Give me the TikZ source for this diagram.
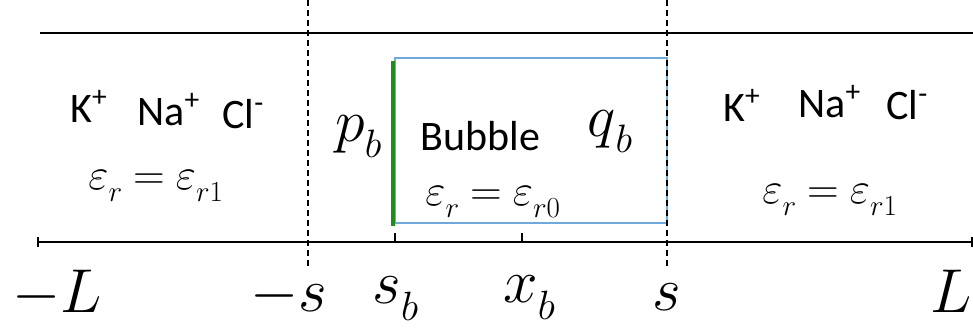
\RequirePackage{fix-cm}
\documentclass[tikz,border=0pt]{standalone}
\usepackage{fontspec}
\usepackage{graphicx}
\usetikzlibrary{calc}
\setmainfont{Carlito}
\definecolor{bubbleedge}{HTML}{6FA8DC}
\definecolor{wallgreen}{HTML}{1E8C1E}
\newcommand{\symb}[2]{$#1$\raisebox{-0.28em}{\scalebox{0.66}{$#2$}}}
\newcommand{\epseq}[2]{\symb{\varepsilon}{#1}\hspace{0.25em}$=$\hspace{0.25em}\symb{\varepsilon}{#2}}

\begin{document}
\begin{tikzpicture}[
    x=0.5pt, y=-0.5pt,
    ion/.style={anchor=base west, inner sep=0pt, font=\fontsize{21}{25}\selectfont},
    eps/.style={anchor=base west, inner sep=0pt, font=\fontsize{22}{26}\selectfont},
    sym/.style={anchor=base west, inner sep=0pt, font=\fontsize{30}{34}\selectfont},
    axlab/.style={anchor=base west, inner sep=0pt, font=\fontsize{31}{35}\selectfont},
    wall/.style={line width=1.3pt},
    cut/.style={line width=0.75pt, dash pattern=on 3pt off 2pt},
  ]
\useasboundingbox (0,0) rectangle (973,329);

% channel walls and axis
\draw[wall] (40,33) -- (973,33);
\coordinate (mL) at (38,242);
\coordinate (pL) at (972,242);
\coordinate (sb) at (395,242);
\coordinate (xb) at (522,242);
\draw[wall] (mL) -- (pL);
\draw[wall] ($(mL)+(0,-5)$) -- ($(mL)+(0,5)$);
\draw[wall] ($(pL)+(0,-5)$) -- ($(pL)+(0,5)$);
\draw[wall] (sb) -- ++(0,-9);
\draw[wall] (xb) -- ++(0,-9);

% bubble
\draw[bubbleedge, line width=1.3pt] (395,58) rectangle (667,223);
\draw[wallgreen, line width=1.7pt] (393,61) -- (393,226);

% interfaces at -s and s
\draw[cut] (308,0) -- (308,267);
\draw[cut] (667,0) -- (667,267);

% left reservoir
\node[ion] (kl) at (70,122) {K\textsuperscript{+}};
\node[ion] (nal) at (137,125) {Na\textsuperscript{+}};
\node[ion] (cll) at (222,128) {Cl\textsuperscript{-}};
\node[eps] (epsl) at (88,189) {\epseq{r}{r1}};

% bubble labels
\node[sym] (pb) at (335,141) {\symb{p}{b}};
\node[ion] (bub) at (420,150) {Bubble};
\node[sym] (qb) at (587,136) {\symb{q}{b}};
\node[eps] (eps0) at (425,205) {\epseq{r}{r0}};

% right reservoir
\node[ion] (kr) at (723,121) {K\textsuperscript{+}};
\node[ion] (nar) at (798,117) {Na\textsuperscript{+}};
\node[ion] (clr) at (886,119) {Cl\textsuperscript{-}};
\node[eps] (epsr) at (762,203) {\epseq{r}{r1}};

% axis labels
\node[axlab] (lmL) at (12,312) {$-L$};
\node[axlab] (lms) at (250,311) {$-s$};
\node[axlab] (lsb) at (372,303) {\symb{s}{b}};
\node[axlab] (lxb) at (503,302) {\symb{x}{b}};
\node[axlab] (ls) at (652,310) {$s$};
\node[axlab] (lL) at (930,312) {$L$};

\end{tikzpicture}
\end{document}
